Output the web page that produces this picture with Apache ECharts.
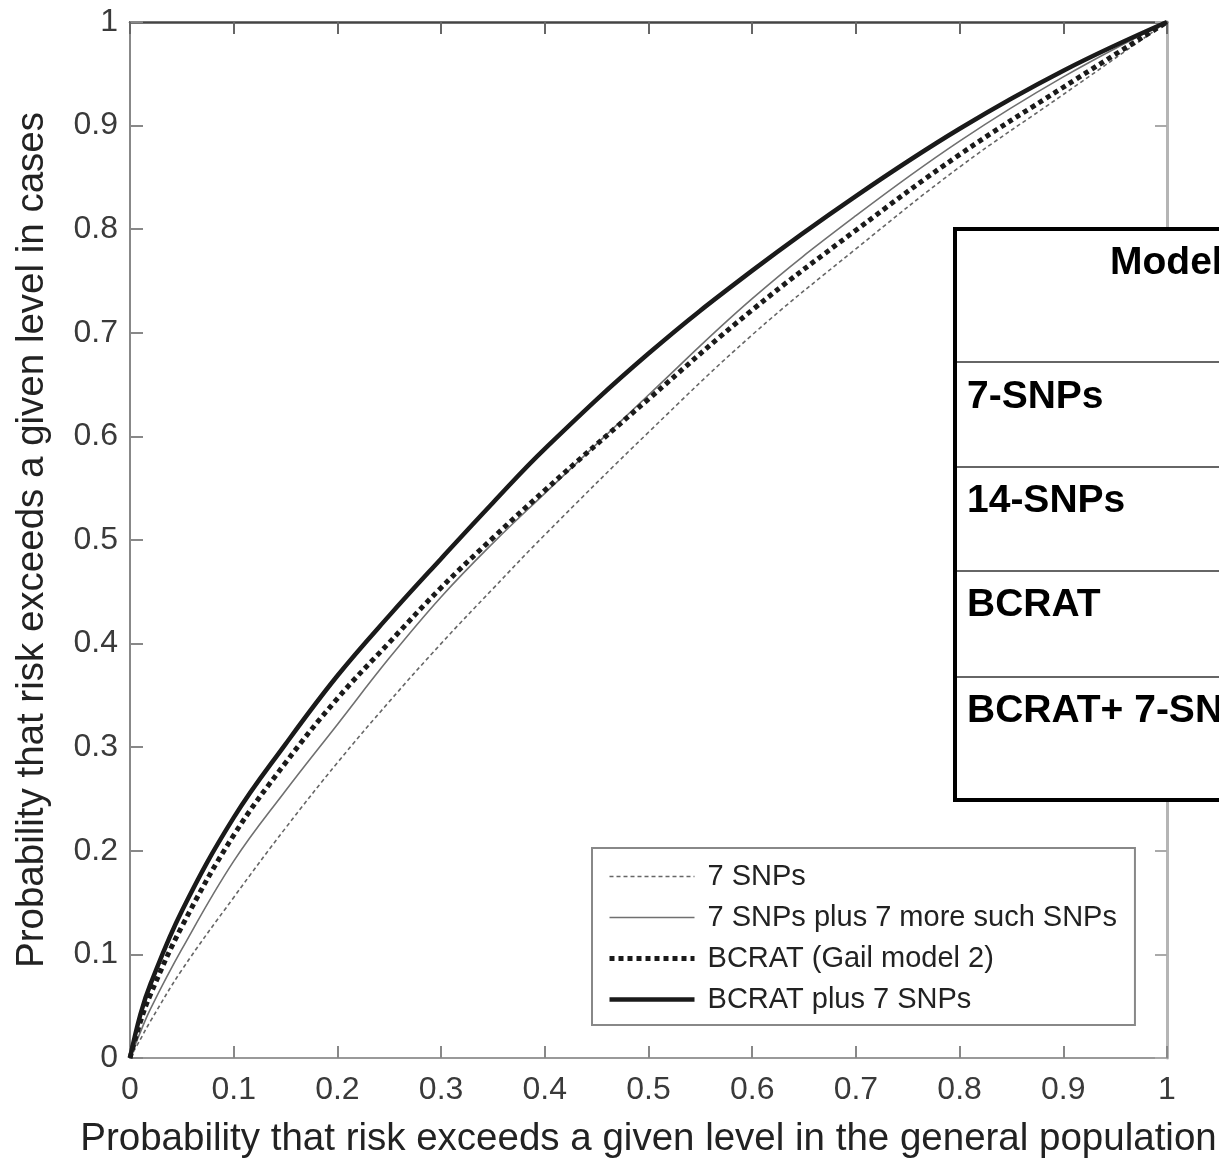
<!DOCTYPE html>
<html>
<head>
<meta charset="utf-8">
<script src="https://cdn.jsdelivr.net/npm/echarts@6/dist/echarts.min.js"></script>
<style>
html,body{margin:0;padding:0;background:#fff;}
#chart{width:1219px;height:1163px;}
</style>
</head>
<body>
<div id="chart"></div>
<script>
// ---- data ----
var xs     = [0, 0.01, 0.02, 0.05, 0.1, 0.15, 0.2, 0.25, 0.3, 0.35, 0.4, 0.5, 0.6, 0.7, 0.8, 0.9, 1.0];
var snp7   = [0, 0.018, 0.036, 0.085, 0.155, 0.222, 0.285, 0.344, 0.400, 0.453, 0.505, 0.604, 0.698, 0.781, 0.860, 0.930, 1];
var snp14  = [0, 0.025, 0.048, 0.105, 0.190, 0.258, 0.322, 0.386, 0.445, 0.497, 0.545, 0.640, 0.733, 0.813, 0.885, 0.947, 1];
var bcrat  = [0, 0.035, 0.062, 0.127, 0.215, 0.285, 0.347, 0.401, 0.454, 0.502, 0.548, 0.636, 0.722, 0.799, 0.872, 0.937, 1];
var bcrat7 = [0, 0.042, 0.072, 0.142, 0.232, 0.303, 0.369, 0.427, 0.482, 0.536, 0.588, 0.680, 0.760, 0.832, 0.897, 0.953, 1];
var seriesNames = ['7 SNPs', '7 SNPs plus 7 more such SNPs', 'BCRAT (Gail model 2)', 'BCRAT plus 7 SNPs'];
var tableHeader = 'Model';
var tableRows = ['7-SNPs', '14-SNPs', 'BCRAT', 'BCRAT+ 7-SNPs'];
var xTitle = 'Probability that risk exceeds a given level in the general population';
var yTitle = 'Probability that risk exceeds a given level in cases';

function pairs(ys){ return xs.map(function(x,i){ return [x, ys[i]]; }); }

var FONT = '"Liberation Sans", Arial, Helvetica, sans-serif';
var chart = echarts.init(document.getElementById('chart'), null, {renderer:'canvas'});

var tableEls = [];
tableEls.push({type:'rect', shape:{x:955, y:229, width:320, height:571},
  style:{fill:'#fff', stroke:'#000', lineWidth:4}, z:100});
[362, 467, 571, 677].forEach(function(y){
  tableEls.push({type:'line', shape:{x1:957, y1:y, x2:1219, y2:y},
    style:{stroke:'#333', lineWidth:1.5}, z:101});
});
tableEls.push({type:'text', x:1110, y:263, z:102,
  style:{text:tableHeader, font:'bold 39px ' + FONT, fill:'#000', verticalAlign:'middle'}});
[397, 501, 605, 711].forEach(function(y, i){
  tableEls.push({type:'text', x:967, y:y, z:102,
    style:{text:tableRows[i], font:'bold 39px ' + FONT, fill:'#000', verticalAlign:'middle'}});
});

var axisCommon = {
  type:'value', min:0, max:1, interval:0.1,
  splitLine:{show:false}
};

var option = {
  animation:false,
  backgroundColor:'#fff',
  grid:{left:130, right:52, top:22, bottom:105, outerBoundsMode:'none', containLabel:false},
  legend:{
    orient:'vertical', left:592, top:848,
    padding:[14, 18, 11, 15],
    borderColor:'#888', borderWidth:2,
    itemWidth:85, itemHeight:14, itemGap:12,
    formatter:function(n){ return ' ' + n; },
    itemStyle:{opacity:0},
    lineStyle:{width:'inherit'},
    textStyle:{fontFamily:FONT, fontSize:29, color:'#222'},
    data:seriesNames
  },
  xAxis:[
    Object.assign({}, axisCommon, {
      position:'bottom',
      name:xTitle, nameLocation:'middle', nameGap:62,
      nameTextStyle:{fontFamily:FONT, fontSize:38.5, color:'#222'},
      axisLine:{show:true, onZero:false, lineStyle:{color:'#999', width:2}},
      axisTick:{show:true, inside:true, length:12, lineStyle:{color:'#888', width:2}},
      axisLabel:{show:true, margin:16, fontFamily:FONT, fontSize:32, color:'#3a3a3a'}
    }),
    Object.assign({}, axisCommon, {
      position:'top',
      axisLine:{show:true, onZero:false, lineStyle:{color:'#444', width:2.5}},
      axisTick:{show:true, inside:true, length:12, lineStyle:{color:'#666', width:2}},
      axisLabel:{show:false}
    })
  ],
  yAxis:[
    Object.assign({}, axisCommon, {
      position:'left',
      name:yTitle, nameLocation:'middle', nameGap:78,
      nameTextStyle:{fontFamily:FONT, fontSize:38.5, color:'#222'},
      axisLine:{show:true, onZero:false, lineStyle:{color:'#888', width:2}},
      axisTick:{show:true, inside:true, length:13, lineStyle:{color:'#888', width:2}},
      axisLabel:{show:true, margin:12, fontFamily:FONT, fontSize:32, color:'#3a3a3a'}
    }),
    Object.assign({}, axisCommon, {
      position:'right',
      axisLine:{show:true, onZero:false, lineStyle:{color:'#b5b5b5', width:3}},
      axisTick:{show:true, inside:true, length:12, lineStyle:{color:'#aaa', width:2}},
      axisLabel:{show:false}
    })
  ],
  series:[
    {name:seriesNames[0], type:'line', data:pairs(snp7), smooth:0.4, symbol:'none', z:2,
      lineStyle:{color:'#666', width:1.6, type:[4,3]}, itemStyle:{color:'#666'}},
    {name:seriesNames[1], type:'line', data:pairs(snp14), smooth:0.4, symbol:'none', z:3,
      lineStyle:{color:'#707070', width:1.6, type:'solid'}, itemStyle:{color:'#707070'}},
    {name:seriesNames[2], type:'line', data:pairs(bcrat), smooth:0.4, symbol:'none', z:4,
      lineStyle:{color:'#1a1a1a', width:5, type:[5,4]}, itemStyle:{color:'#1a1a1a'}},
    {name:seriesNames[3], type:'line', data:pairs(bcrat7), smooth:0.4, symbol:'none', z:5,
      lineStyle:{color:'#1a1a1a', width:4.5, type:'solid'}, itemStyle:{color:'#1a1a1a'}}
  ],
  graphic:tableEls
};
chart.setOption(option);
</script>
</body>
</html>
